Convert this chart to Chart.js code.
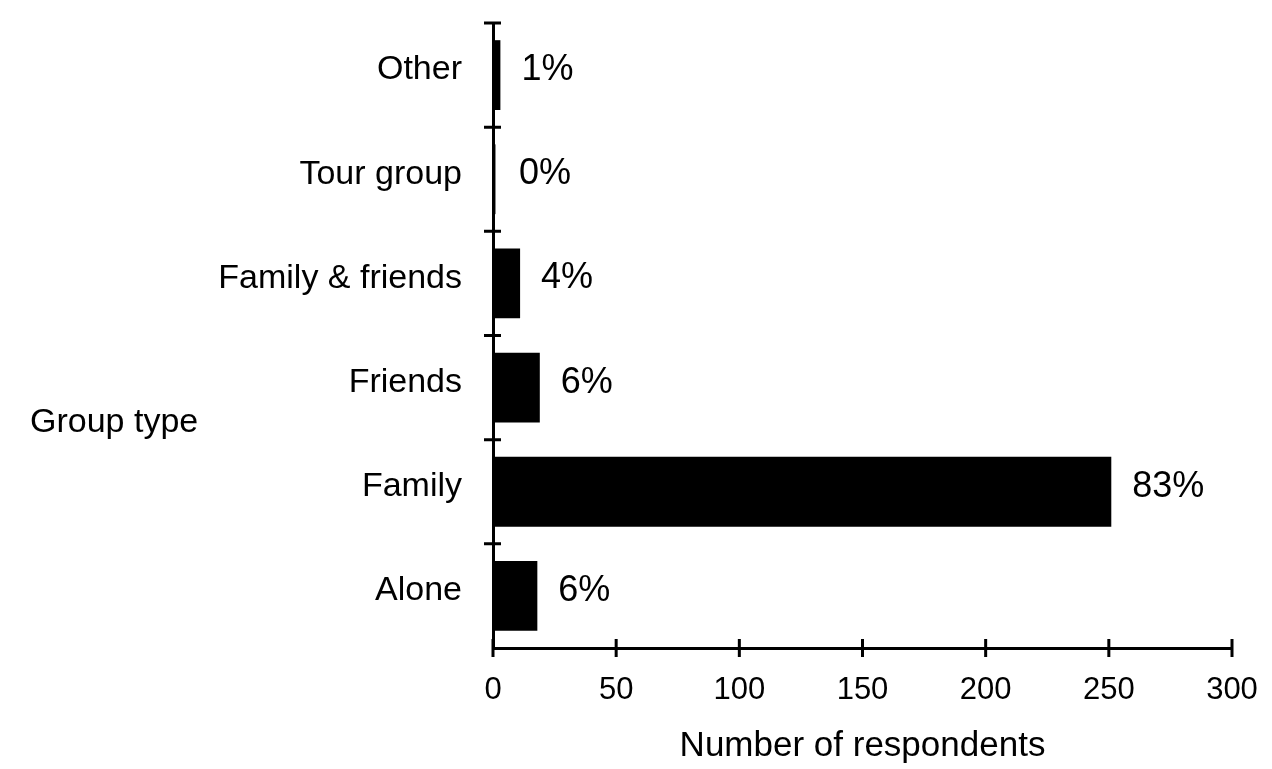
<!DOCTYPE html>
<html>
<head>
<meta charset="utf-8">
<script src="https://cdn.jsdelivr.net/npm/chart.js@4.4.1/dist/chart.umd.min.js"></script>
<style>
  html, body { margin: 0; padding: 0; background: #fff; }
  #wrap { width: 1272px; height: 769px; }
</style>
</head>
<body>
<div id="wrap"><canvas id="groupChart"></canvas></div>
<script>
const groupTypes = ['Other', 'Tour group', 'Family & friends', 'Friends', 'Family', 'Alone'];
const respondents = [3, 1, 11, 19, 251, 18];
const pctLabels = ['1%', '0%', '4%', '6%', '83%', '6%'];
const xTicks = [0, 50, 100, 150, 200, 250, 300];

const FONT = '"Liberation Sans", Arial, Helvetica, sans-serif';

// percentage next to each bar
const pctPlugin = {
  id: 'pctLabels',
  afterDatasetsDraw(chart) {
    const ctx = chart.ctx;
    const meta = chart.getDatasetMeta(0);
    ctx.save();
    ctx.fillStyle = '#000';
    ctx.font = '36px ' + FONT;
    ctx.textAlign = 'left';
    ctx.textBaseline = 'alphabetic';
    meta.data.forEach((bar, i) => {
      ctx.fillText(pctLabels[i], Math.max(bar.x, 498) + 21, bar.y + 5);
    });
    ctx.restore();
  }
};

// tick marks that cross the axis lines, and the horizontal y title
const axisPlugin = {
  id: 'crossTicks',
  afterDraw(chart) {
    const ctx = chart.ctx;
    const xs = chart.scales.x, ys = chart.scales.y;
    const area = chart.chartArea;
    ctx.save();
    ctx.strokeStyle = '#000';
    ctx.lineWidth = 3;
    ctx.beginPath();
    const band = (ys.getPixelForValue(1) - ys.getPixelForValue(0));
    for (let i = 0; i < groupTypes.length; i++) {
      const y = ys.getPixelForValue(i) - band / 2;
      ctx.moveTo(area.left - 9, y);
      ctx.lineTo(area.left + 8, y);
    }
    xTicks.forEach(v => {
      const x = xs.getPixelForValue(v);
      ctx.moveTo(x, area.bottom - 9);
      ctx.lineTo(x, area.bottom + 9);
    });
    ctx.stroke();

    ctx.fillStyle = '#000';
    ctx.font = '34px ' + FONT;
    ctx.textAlign = 'left';
    ctx.textBaseline = 'alphabetic';
    ctx.fillText('Group type', 30, 432);
    ctx.restore();
  }
};

const ctx = document.getElementById('groupChart').getContext('2d');
const config = {
  type: 'bar',
  data: {
    labels: groupTypes,
    datasets: [{
      data: respondents,
      backgroundColor: '#000',
      borderWidth: 0,
      barPercentage: 1,
      categoryPercentage: 0.67
    }]
  },
  options: {
    indexAxis: 'y',
    responsive: true,
    maintainAspectRatio: false,
    animation: false,
    layout: { padding: { top: 23, right: 40, bottom: 0, left: 0 } },
    plugins: {
      legend: { display: false },
      tooltip: { enabled: false }
    },
    scales: {
      x: {
        min: 0,
        max: 300,
        afterFit: (s) => { s.height = 121; s.paddingLeft = 0; s.paddingRight = 0; },
        afterBuildTicks: (s) => { s.ticks = xTicks.map(v => ({ value: v })); },
        grid: { display: false, drawTicks: false, tickLength: 0 },
        border: { display: true, color: '#000', width: 3 },
        ticks: {
          color: '#000',
          padding: 24,
          maxRotation: 0,
          font: { family: FONT, size: 31 }
        },
        title: {
          display: true,
          text: 'Number of respondents',
          color: '#000',
          font: { family: FONT, size: 35 },
          padding: { top: 0, bottom: 2 }
        }
      },
      y: {
        afterFit: (s) => { s.width = 493; s.paddingTop = 0; s.paddingBottom = 0; },
        grid: { display: false, drawTicks: false, tickLength: 0 },
        border: { display: true, color: '#000', width: 3 },
        ticks: {
          color: '#000',
          padding: 31,
          labelOffset: -5,
          font: { family: FONT, size: 34 }
        }
      }
    }
  },
  plugins: [pctPlugin, axisPlugin]
};

const groupChart = new Chart(ctx, config);
</script>
</body>
</html>
